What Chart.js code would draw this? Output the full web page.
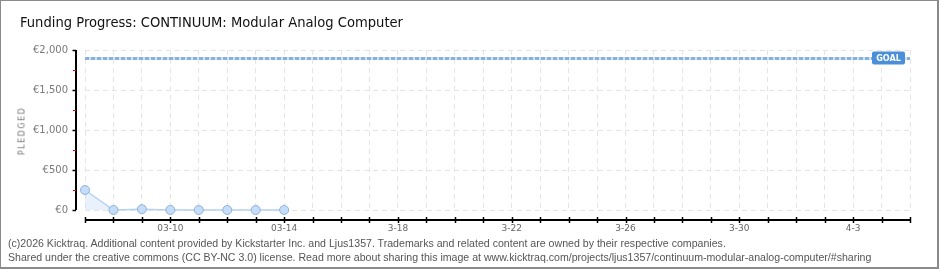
<!DOCTYPE html>
<html>
<head>
<meta charset="utf-8">
<script src="https://cdn.jsdelivr.net/npm/chart.js@4.4.1/dist/chart.umd.min.js"></script>
<style>
  html, body { margin: 0; padding: 0; background: #fff; }
  .frame {
    position: relative;
    width: 940px;
    height: 270px;
    overflow: hidden;
  }
  .frame .border {
    position: absolute;
    left: 0; top: 0;
    width: 936px; height: 266px;
    border: 1px solid #8a8a8a;
    border-right-width: 2px;
    border-bottom-width: 2px;
    pointer-events: none;
  }
  canvas { position: absolute; left: 0; top: 0; }
  .title {
    position: absolute;
    left: 20px;
    top: 13px;
    font: 14.6px "DejaVu Sans Condensed", "DejaVu Sans", sans-serif;
    color: #111;
    white-space: nowrap;
  }
  .ytitle {
    position: absolute;
    left: 22px;
    top: 131px;
    transform: translate(-50%, -50%) rotate(-90deg);
    font: 8px "DejaVu Sans", sans-serif;
    letter-spacing: 1.5px;
    color: #777;
    white-space: nowrap;
  }
  .footer {
    position: absolute;
    left: 8px;
    top: 236px;
    font: 10.6px "Liberation Sans", sans-serif;
    line-height: 14px;
    color: #555;
    white-space: nowrap;
  }
</style>
</head>
<body>
<div class="frame">
  <canvas id="chart" width="940" height="270"></canvas>
  <div class="title">Funding Progress: CONTINUUM: Modular Analog Computer</div>
  <div class="ytitle">PLEDGED</div>
  <div class="footer">
    (c)2026 Kicktraq. Additional content provided by Kickstarter Inc. and Ljus1357. Trademarks and related content are owned by their respective companies.<br>
    Shared under the creative commons (CC BY-NC 3.0) license. Read more about sharing this image at www.kicktraq.com/projects/ljus1357/continuum-modular-analog-computer/#sharing
  </div>
  <div class="border"></div>
</div>
<script>
// days on the x axis, 03-07 .. 04-05
const days = [
  "03-07", "03-08", "03-09", "03-10", "03-11", "03-12", "03-13", "03-14",
  "03-15", "03-16", "03-17", "03-18", "03-19", "03-20", "03-21", "03-22",
  "03-23", "03-24", "03-25", "03-26", "03-27", "03-28", "03-29", "03-30",
  "03-31", "04-01", "04-02", "04-03", "04-04", "04-05"
];
// which days get a label, and the text Kicktraq prints for them
const labeledDays = ["03-10", "03-14", "03-18", "03-22", "03-26", "03-30", "04-03"];
const labelText = ["03-10", "03-14", "3-18", "3-22", "3-26", "3-30", "4-3"];

const pledged = [250, 0, 10, 0, 0, 0, 0, 0];
const goal = 1900;

const yMax = 2000;
const yStep = 500;
const minorTicks = [250, 750, 1250, 1750];

// axis lines sit a bit away from the plot, like the original
const axesPlugin = {
    id: "offsetAxes",
    afterDraw(chart) {
        const { ctx, chartArea, scales } = chart;
        const x = scales.x, y = scales.y;
        const axisX = chartArea.left - 9;
        const axisY = chartArea.bottom + 10;

        ctx.save();
        ctx.strokeStyle = "#000";
        ctx.lineWidth = 2;
        ctx.beginPath();
        ctx.moveTo(axisX, y.getPixelForValue(yMax));
        ctx.lineTo(axisX, y.getPixelForValue(0));
        ctx.stroke();

        ctx.beginPath();
        ctx.moveTo(x.getPixelForValue(0), axisY);
        ctx.lineTo(x.getPixelForValue(days.length - 1), axisY);
        ctx.stroke();

        // major y ticks
        ctx.lineWidth = 1.5;
        for (let v = 0; v <= yMax; v += yStep) {
            const py = Math.round(y.getPixelForValue(v)) + 0.5;
            ctx.beginPath();
            ctx.moveTo(axisX - 3.5, py);
            ctx.lineTo(axisX, py);
            ctx.stroke();
        }
        // minor y ticks (red)
        ctx.strokeStyle = "#e00000";
        ctx.lineWidth = 1;
        minorTicks.forEach((v) => {
            const py = Math.round(y.getPixelForValue(v)) + 0.5;
            ctx.beginPath();
            ctx.moveTo(axisX - 3, py);
            ctx.lineTo(axisX, py);
            ctx.stroke();
        });
        // day ticks
        ctx.strokeStyle = "#000";
        ctx.lineWidth = 1.5;
        days.forEach((d, i) => {
            const px = Math.round(x.getPixelForValue(i)) + 0.5;
            ctx.beginPath();
            ctx.moveTo(px, axisY - 3);
            ctx.lineTo(px, axisY + 3);
            ctx.stroke();
        });
        ctx.restore();
    },
};

const goalPlugin = {
    id: "goalLine",
    beforeDatasetsDraw(chart) {
        const { ctx, scales } = chart;
        const x = scales.x, y = scales.y;
        const gy = Math.round(y.getPixelForValue(goal)) + 0.5;
        const x0 = x.getPixelForValue(0);
        const x1 = x.getPixelForValue(days.length - 1);

        ctx.save();
        ctx.lineWidth = 3;
        ctx.strokeStyle = "#d2e2f5";
        ctx.beginPath();
        ctx.moveTo(x0, gy);
        ctx.lineTo(x1, gy);
        ctx.stroke();
        ctx.strokeStyle = "#86b0e0";
        ctx.setLineDash([4, 2]);
        ctx.beginPath();
        ctx.moveTo(x0, gy);
        ctx.lineTo(x1, gy);
        ctx.stroke();
        ctx.setLineDash([]);

        // GOAL badge
        const bw = 33, bh = 13;
        const bx = x1 - 38;
        ctx.fillStyle = "#4a8fd9";
        ctx.beginPath();
        ctx.roundRect(bx, gy - 7, bw, bh, 2);
        ctx.fill();
        ctx.fillStyle = "#fff";
        ctx.font = "bold 9px 'DejaVu Sans Condensed', 'DejaVu Sans', sans-serif";
        ctx.textAlign = "center";
        ctx.textBaseline = "middle";
        ctx.fillText("GOAL", bx + bw / 2, gy);
        ctx.restore();
    },
};

const ctx = document.getElementById("chart").getContext("2d");

new Chart(ctx, {
    type: "line",
    data: {
        labels: days,
        datasets: [
            {
                label: "Pledged",
                data: pledged,
                clip: false,
                borderColor: "#b4d2f2",
                borderWidth: 1.5,
                backgroundColor: "rgba(206, 226, 248, 0.45)",
                fill: "origin",
                tension: 0,
                pointRadius: 4.5,
                pointBackgroundColor: "#c5ddf8",
                pointBorderColor: "#8eb1db",
                pointBorderWidth: 1,
            },
        ],
    },
    options: {
        responsive: false,
        animation: false,
        layout: { padding: { top: 50, right: 30, left: 0, bottom: 0 } },
        plugins: {
            legend: { display: false },
            tooltip: { enabled: false },
        },
        scales: {
            x: {
                type: "category",
                offset: false,
                afterFit(scale) { scale.height = 60; },
                grid: {
                    color: "#e4e4e4",
                    lineWidth: 1,
                    drawTicks: false,
                },
                border: { display: false, dash: [5, 4] },
                ticks: {
                    autoSkip: false,
                    maxRotation: 0,
                    padding: 13,
                    color: "#666",
                    font: { family: "DejaVu Sans", size: 9 },
                    callback(value, index) {
                        const k = labeledDays.indexOf(days[index]);
                        return k >= 0 ? labelText[k] : "";
                    },
                },
            },
            y: {
                min: 0,
                max: yMax,
                afterFit(scale) { scale.width = 85; },
                grid: {
                    color: "#e4e4e4",
                    lineWidth: 1,
                    drawTicks: false,
                },
                border: { display: false, dash: [5, 4] },
                ticks: {
                    stepSize: yStep,
                    padding: 17,
                    color: "#777",
                    font: { family: "DejaVu Sans", size: 10 },
                    callback: (v) => "€" + v.toLocaleString("en-US"),
                },
            },
        },
    },
    plugins: [goalPlugin, axesPlugin],
});
</script>
</body>
</html>
